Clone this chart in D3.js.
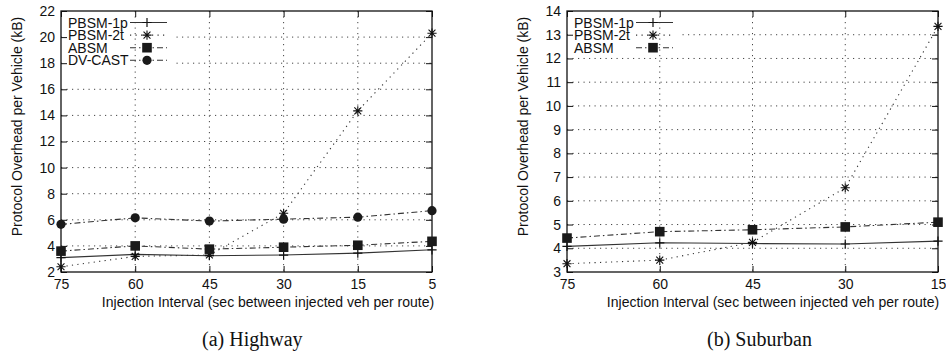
<!DOCTYPE html>
<html>
<head>
<meta charset="utf-8">
<style>
  body { margin: 0; background: #fff; }
  svg text { font-family: "Liberation Sans", Arial, sans-serif; fill: #111; }
  .caption { font-family: "Liberation Serif", "Times New Roman", serif; }
</style>
</head>
<body>
<svg id="chart" width="946" height="355"></svg>
<script src="https://d3js.org/d3.v7.min.js"></script>
<script>
// Highway panel
var hwCategories = ["75", "60", "45", "30", "15", "5"];
var hwPbsm1p = [3.1, 3.35, 3.25, 3.3, 3.45, 3.7];
var hwPbsm2t = [2.4, 3.2, 3.3, 6.5, 14.35, 20.3];
var hwAbsm = [3.6, 4.0, 3.75, 3.9, 4.05, 4.35];
var hwDvcast = [5.65, 6.15, 5.9, 6.05, 6.2, 6.7];
var hwYTicks = [2, 4, 6, 8, 10, 12, 14, 16, 18, 20, 22];

// Suburban panel
var sbCategories = ["75", "60", "45", "30", "15"];
var sbPbsm1p = [4.08, 4.23, 4.2, 4.18, 4.3];
var sbPbsm2t = [3.35, 3.5, 4.25, 6.55, 13.35];
var sbAbsm = [4.43, 4.7, 4.78, 4.9, 5.1];
var sbYTicks = [3, 4, 5, 6, 7, 8, 9, 10, 11, 12, 13, 14];

var xTitle = "Injection Interval (sec between injected veh per route)";
var yTitle = "Protocol Overhead per Vehicle (kB)";

var styles = {
    "PBSM-1p": { dash: null, marker: "plus" },
    "PBSM-2t": { dash: "1.2,4.3", marker: "star" },
    "ABSM": { dash: "6,3,1.5,3", marker: "square" },
    "DV-CAST": { dash: "6,3,1.5,3", marker: "circle" }
};

var svg = d3.select("#chart");

function drawMarker(g, type, x, y) {
    var s = 4.6;
    if (type == "plus") {
        g.append("path").attr("d", "M" + (x - s) + "," + y + "H" + (x + s) + "M" + x + "," + (y - s) + "V" + (y + s))
            .attr("stroke", "#111").attr("stroke-width", 1.2).attr("fill", "none");
    } else if (type == "star") {
        var d = s * 0.75;
        g.append("path").attr("d", "M" + (x - s) + "," + y + "H" + (x + s) + "M" + x + "," + (y - s) + "V" + (y + s) +
                "M" + (x - d) + "," + (y - d) + "L" + (x + d) + "," + (y + d) + "M" + (x - d) + "," + (y + d) + "L" + (x + d) + "," + (y - d))
            .attr("stroke", "#111").attr("stroke-width", 1.1).attr("fill", "none");
    } else if (type == "square") {
        g.append("rect").attr("x", x - 4.8).attr("y", y - 4.8).attr("width", 9.6).attr("height", 9.6)
            .attr("fill", "#1a1a1a");
    } else if (type == "circle") {
        g.append("circle").attr("cx", x).attr("cy", y).attr("r", 4.6).attr("fill", "#1a1a1a");
    }
}

function drawPanel(p) {
    var g = svg.append("g");
    var x = d3.scalePoint().domain(p.categories).range([p.x0, p.x1]);
    var y = d3.scaleLinear().domain(p.yDomain).range([p.y1, p.y0]);

    // horizontal grid
    g.append("g").selectAll("line").data(p.yTicks.slice(1, -1)).enter().append("line")
        .attr("x1", p.x0).attr("x2", p.x1)
        .attr("y1", function(d) { return y(d); }).attr("y2", function(d) { return y(d); })
        .attr("stroke", "#444").attr("stroke-width", 1).attr("stroke-dasharray", "1.2,4.3");

    // opaque key box hides the horizontal grid under it
    g.append("rect").attr("x", p.x0 + 1).attr("y", p.y0 + 1)
        .attr("width", 112).attr("height", p.series.length * 12.6 + 4)
        .attr("fill", "#fff");

    // vertical grid
    g.append("g").selectAll("line").data(p.categories.slice(1, -1)).enter().append("line")
        .attr("x1", function(d) { return x(d); }).attr("x2", function(d) { return x(d); })
        .attr("y1", p.y0).attr("y2", p.y1)
        .attr("stroke", "#444").attr("stroke-width", 1).attr("stroke-dasharray", "1.2,4.3");

    // axes (ticks inward, mirrored)
    var axB = g.append("g").attr("transform", "translate(0," + p.y1 + ")")
        .call(d3.axisBottom(x).tickSize(-6).tickPadding(7));
    var axT = g.append("g").attr("transform", "translate(0," + p.y0 + ")")
        .call(d3.axisTop(x).tickSize(-6).tickFormat(""));
    var axL = g.append("g").attr("transform", "translate(" + p.x0 + ",0)")
        .call(d3.axisLeft(y).tickValues(p.yTicks).tickSize(-6).tickPadding(6));
    var axR = g.append("g").attr("transform", "translate(" + p.x1 + ",0)")
        .call(d3.axisRight(y).tickValues(p.yTicks).tickSize(-6).tickFormat(""));
    [axB, axT, axL, axR].forEach(function(a) {
        a.select(".domain").remove();
        a.selectAll("line").attr("stroke", "#111").attr("stroke-width", 1);
        a.selectAll("text").attr("font-size", "14px").attr("fill", "#111")
            .attr("font-family", "Liberation Sans, Arial, sans-serif");
    });

    g.append("rect").attr("x", p.x0).attr("y", p.y0).attr("width", p.x1 - p.x0).attr("height", p.y1 - p.y0)
        .attr("fill", "none").attr("stroke", "#111").attr("stroke-width", 1.3);

    // series
    var line = d3.line().x(function(d) { return x(d[0]); }).y(function(d) { return y(d[1]); });
    p.series.forEach(function(s) {
        var st = styles[s.name];
        var pts = p.categories.map(function(c, i) { return [c, s.values[i]]; });
        g.append("path").datum(pts).attr("d", line)
            .attr("fill", "none").attr("stroke", "#333").attr("stroke-width", 1.1)
            .attr("stroke-dasharray", st.dash);
        pts.forEach(function(d) { drawMarker(g, st.marker, x(d[0]), y(d[1])); });
    });

    // key
    p.series.forEach(function(s, i) {
        var st = styles[s.name];
        var ky = p.y0 + 11.5 + i * 12.6;
        g.append("text").attr("x", p.x0 + 7).attr("y", ky + 5).attr("font-size", "14px").text(s.name);
        g.append("line").attr("x1", p.x0 + 69).attr("x2", p.x0 + 106).attr("y1", ky).attr("y2", ky)
            .attr("stroke", "#333").attr("stroke-width", 1.1).attr("stroke-dasharray", st.dash);
        drawMarker(g, st.marker, p.x0 + 86, ky);
    });

    // titles
    g.append("text").attr("x", p.xTitleX).attr("y", 307).attr("text-anchor", "middle")
        .attr("font-size", "14px").text(xTitle);
    g.append("text").attr("transform", "translate(" + p.yTitleX + ",126.5) rotate(-90)")
        .attr("text-anchor", "middle").attr("font-size", "14px").text(yTitle);
    g.append("text").attr("class", "caption").attr("x", p.captionX).attr("y", 346)
        .attr("font-size", "20px").text(p.caption);
}

drawPanel({
    categories: hwCategories, yDomain: [2, 22], yTicks: hwYTicks,
    x0: 61, x1: 432, y0: 11, y1: 272,
    xTitleX: 268, yTitleX: 22, captionX: 202, caption: "(a)  Highway",
    series: [
        { name: "PBSM-1p", values: hwPbsm1p },
        { name: "PBSM-2t", values: hwPbsm2t },
        { name: "ABSM", values: hwAbsm },
        { name: "DV-CAST", values: hwDvcast }
    ]
});

drawPanel({
    categories: sbCategories, yDomain: [3, 14], yTicks: sbYTicks,
    x0: 567, x1: 938, y0: 11, y1: 272,
    xTitleX: 773, yTitleX: 528, captionX: 707, caption: "(b)  Suburban",
    series: [
        { name: "PBSM-1p", values: sbPbsm1p },
        { name: "PBSM-2t", values: sbPbsm2t },
        { name: "ABSM", values: sbAbsm }
    ]
});
</script>
</body>
</html>
